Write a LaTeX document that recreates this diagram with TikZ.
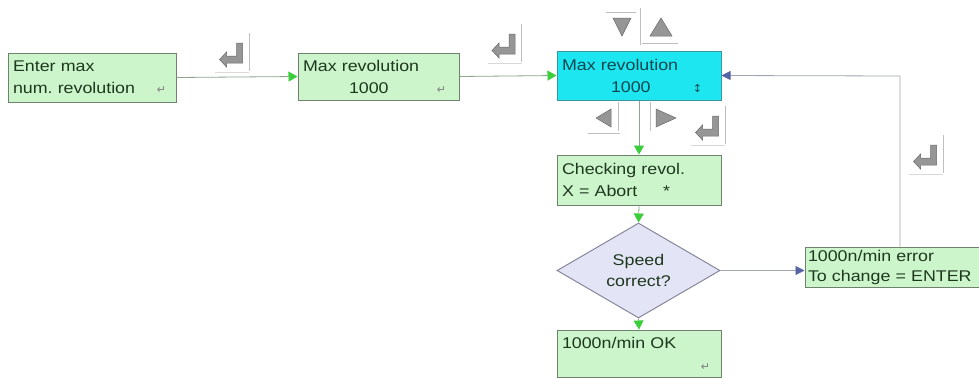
\documentclass[tikz,border=0pt]{standalone}
\usepackage{fontspec}
\newfontfamily\boxfont[FakeStretch=1.15]{Liberation Sans}
\newfontfamily\symfont{DejaVu Sans}
\usepackage{xcolor}
\usetikzlibrary{shapes.geometric,arrows.meta,positioning,calc}
\definecolor{boxgreen}{RGB}{204,245,204}
\definecolor{boxedge}{RGB}{110,130,110}
\definecolor{boxtext}{RGB}{30,56,30}
\definecolor{lcdcyan}{RGB}{30,230,240}
\definecolor{cyanedge}{RGB}{58,150,160}
\definecolor{cyantext}{RGB}{10,70,78}
\definecolor{diafill}{RGB}{227,229,246}
\definecolor{diaedge}{RGB}{135,135,155}
\definecolor{linegreen}{RGB}{140,165,140}
\definecolor{linegray}{RGB}{160,165,175}
\definecolor{arrowgreen}{RGB}{60,205,60}
\definecolor{arrowblue}{RGB}{85,100,165}
\definecolor{btngray}{RGB}{150,150,150}
\newcommand{\retglyph}{{\symfont\fontsize{11}{11}\selectfont\color{gray}↵}}
\frenchspacing

\begin{document}
\begin{tikzpicture}[x=1pt, y=-1pt,
    screen/.style args={#1x#2}{rectangle, draw=boxedge, fill=boxgreen, line width=1pt,
        minimum width=#1pt, minimum height=#2pt, text width=#1pt-10pt,
        inner xsep=5pt, inner ysep=0pt, align=left, text=boxtext,
        font=\boxfont\fontsize{15.5}{22}\selectfont},
    active/.style={fill=lcdcyan, draw=cyanedge, text=cyantext},
    query/.style={diamond, draw=diaedge, fill=diafill, line width=1pt, inner sep=0pt,
        aspect=1.72, minimum width=163pt, minimum height=95pt, align=center, text=boxtext,
        font=\boxfont\fontsize{15.5}{21}\selectfont},
    flow/.style={draw=linegreen, line width=0.8pt, -{Triangle[length=9pt, width=10pt, color=arrowgreen]}},
    back/.style={draw=linegray, line width=0.8pt, -{Triangle[length=9pt, width=9pt, color=arrowblue]}},
    btn/.style={fill=btngray, draw=btngray!70!black, line width=0.5pt},
    bevel/.style={draw=gray!50, line width=0.8pt},
    enterkey/.pic={
        \filldraw[btn] (5.5,-11) -- (11.5,-11) -- (11.5,9) -- (-4.5,9) -- (-4.5,13)
            -- (-11.5,5.5) -- (-4.5,-2) -- (-4.5,2) -- (5.5,2) -- cycle;
        \draw[bevel] (18,-21) -- (18,17);
        \draw[bevel, gray!30] (-16,18) -- (18,18);
    }
]
\useasboundingbox (0,0) rectangle (979,378);

% screens
\node[screen=168x49] (enter) at (92,77.5) {Enter max\\num. revolution\hfill\retglyph\hspace*{5pt}};
\node[screen=161x47] (rev) at (378.5,76.5) {Max revolution\\\hspace*{46pt}1000\hfill\retglyph\hspace*{8pt}};
\node[screen=164x49, active] (max) at (639,75.5) {Max revolution\\\hspace*{49pt}1000\hfill{\symfont\fontsize{11}{11}\selectfont↕}\hspace*{14pt}};
\node[screen=164x50] (check) at (639,180) {Checking revol.\\X = Abort\hspace*{26pt}*};
\node[query] (speed) at (638.5,270.5) {Speed\\correct?};
\node[screen=164x47] (ok) at (639,353.5) {1000n/min OK\\\hspace*{\fill}\retglyph\hspace*{6pt}};
\node[screen=172x40, inner xsep=3pt, text width=168pt, font=\boxfont\fontsize{15.5}{20}\selectfont] (err) at (892,267)
    {1000n/min error\\\mbox{To change = ENTER}};

% connectors
\coordinate (bend) at (900,76);
\draw[flow] (enter.east) -- (rev.west);
\draw[flow] (rev.east) -- (max.west);
\draw[flow] (max.south) -- (check.north);
\draw[flow] (check.south) -- (speed.north);
\draw[flow] (speed.south) -- (ok.north);
\draw[back] (speed.east) -- (speed.east -| err.west);
\draw[back] (err.north -| bend) -- (bend) -- (max.east);

% keys
\foreach \p in {(231,54), (503.5,45), (707,127), (925,156)}
    \pic at \p {enterkey};
\filldraw[btn] (613,18) -- (631,18) -- (622,36) -- cycle;
\filldraw[btn] (650,36) -- (672,36) -- (661,18) -- cycle;
\draw[bevel] (606,12) -- (636,12) (640,8) -- (640,45) (642,43) -- (678,43);
\filldraw[btn] (596,118) -- (611,109) -- (611,127) -- cycle;
\filldraw[btn] (676,118) -- (656,109) -- (656,127) -- cycle;
\draw[bevel] (618,102) -- (618,131) (588,133) -- (620,133) (650,102) -- (650,131);
\end{tikzpicture}
\end{document}
